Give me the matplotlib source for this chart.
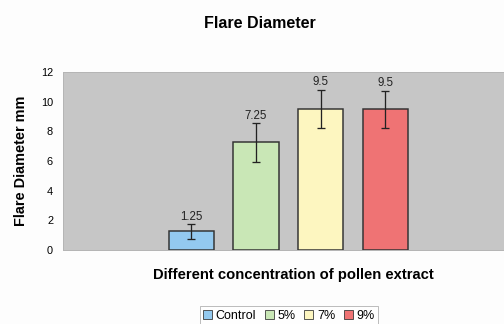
import matplotlib
matplotlib.use("Agg")
import matplotlib.pyplot as plt
from matplotlib.patches import Patch

series = ["Control", "5%", "7%", "9%"]
values = [1.25, 7.25, 9.5, 9.5]
errors = [0.5, 1.3, 1.3, 1.25]
labels = ["1.25", "7.25", "9.5", "9.5"]
colors = ["#93c9ef", "#c9e7b6", "#fdf6c0", "#ef7374"]
yticks = [0, 2, 4, 6, 8, 10, 12]

plt.rcParams['font.family'] = ['Liberation Sans', 'DejaVu Sans']

fig = plt.figure(figsize=(7, 4.5), dpi=72)
fig.patch.set_facecolor("#fdfdfd")
ax = fig.add_axes([63/504, 1-250/324, 1-63/504, 178/324])
ax.set_facecolor("#c6c6c6")

x = list(range(len(series)))
ax.bar(x, values, width=0.70, color=colors, edgecolor="#333333", linewidth=1.5, zorder=2)
ax.errorbar(x, values, yerr=errors, fmt="none", ecolor="#222222", elinewidth=1.3,
            capsize=4, capthick=1.3, zorder=3)
for xi, v, e, lab in zip(x, values, errors, labels):
    ax.text(xi, v + e + 0.1, lab, ha="center", va="bottom", fontsize=11.5, color="#222222")

ax.set_xlim(-1.99, 4.84)
ax.set_ylim(0, 12)
ax.set_yticks(yticks)
ax.set_yticklabels([str(t) for t in yticks], fontsize=11)
ax.set_xticks([])
ax.tick_params(axis="y", length=0, pad=10)
for s in ["top", "right", "left", "bottom"]:
    ax.spines[s].set_color("#b5b5b5")
    ax.spines[s].set_linewidth(1.0)

fig.text(260/504, 1-23/324, "Flare Diameter", ha="center", va="center",
         fontsize=16, fontweight="bold")
fig.text(21/504, 1-161/324, "Flare Diameter mm", ha="center", va="center",
         rotation=90, fontsize=14.5, fontweight="bold")
fig.text(293/504, 1-275/324, "Different concentration of pollen extract",
         ha="center", va="center", fontsize=14.8, fontweight="bold")

handles = [Patch(facecolor=c, edgecolor="#333333", linewidth=0.8) for c in colors]
leg = fig.legend(handles, series, loc="center", bbox_to_anchor=(289/504, 1-316/324),
                 ncol=4, fontsize=12.5, frameon=True, handlelength=0.7, handleheight=0.7,
                 handletextpad=0.3, columnspacing=0.7, borderpad=0.3, fancybox=False)
leg.get_frame().set_edgecolor("#999999")
leg.get_frame().set_linewidth(0.8)

fig.savefig("out.png", dpi=72, facecolor=fig.get_facecolor())
